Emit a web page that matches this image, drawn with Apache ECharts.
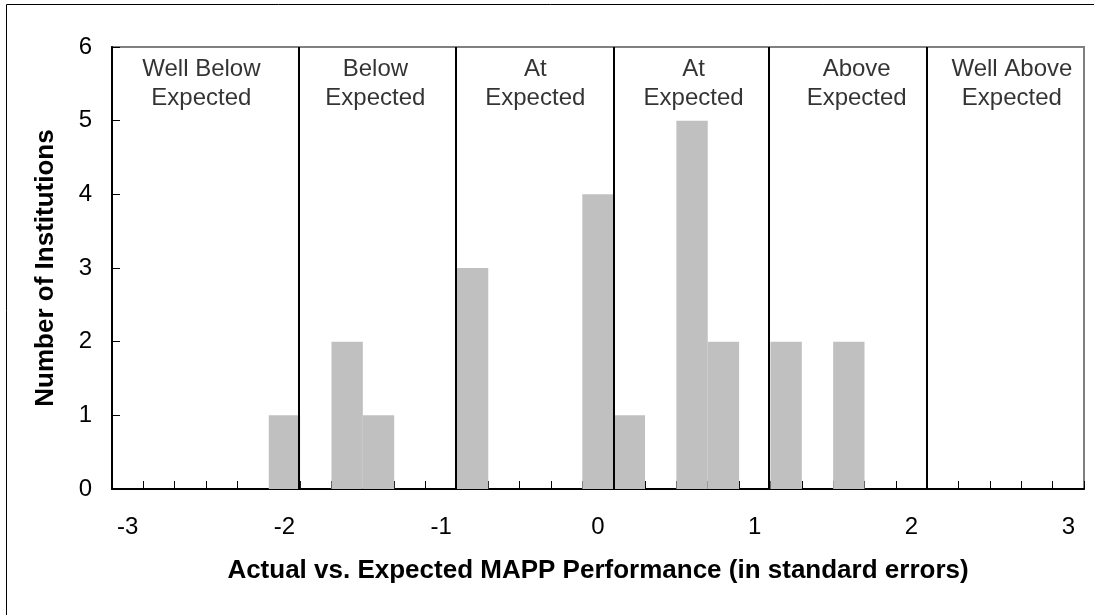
<!DOCTYPE html>
<html>
<head>
<meta charset="utf-8">
<script src="https://cdn.jsdelivr.net/npm/echarts@6/dist/echarts.min.js"></script>
<style>
html,body{margin:0;padding:0;background:#fff;}
#chart{width:1094px;height:615px;}
</style>
</head>
<body>
<div id="chart"></div>
<script>
// Bin centers (standard errors)
const binCenters = [-3.0,-2.8,-2.6,-2.4,-2.2,-2.0,-1.8,-1.6,-1.4,-1.2,-1.0,-0.8,-0.6,-0.4,-0.2,0.0,0.2,0.4,0.6,0.8,1.0,1.2,1.4,1.6,1.8,2.0,2.2,2.4,2.6,2.8,3.0];
// Number of institutions per bin
const counts = [0,0,0,0,0,1,0,2,1,0,0,3,0,0,0,4,1,0,5,2,0,2,0,2,0,0,0,0,0,0,0];
// Tick labels shown every 5 bins
const tickLabels = ['-3','-2','-1','0','1','2','3'];
// Zone divider positions
const dividers = [-1.91,-0.91,0.1,1.09,2.1];
// Zone labels and their positions
const zoneNames = ['Well Below\nExpected','Below\nExpected','At\nExpected','At\nExpected','Above\nExpected','Well Above\nExpected'];
const zoneLabelX = [-2.53,-1.42,-0.4,0.61,1.65,2.64];
const zoneLabelY = 5.5;

const FONT = 'Liberation Sans, Arial, sans-serif';
const chart = echarts.init(document.getElementById('chart'), null, {renderer:'canvas'});
chart.setOption({
  animation:false,
  backgroundColor:'#fff',
  textStyle:{fontFamily:FONT},
  graphic:[{
    type:'rect', silent:true, z:-10,
    shape:{x:6.5,y:4.5,width:1200,height:700},
    style:{fill:'none',stroke:'#000',lineWidth:1}
  }],
  grid:{left:112,right:10,top:47,bottom:126,show:true,borderColor:'#808080',borderWidth:2,backgroundColor:'transparent'},
  xAxis:[{
    type:'category',
    data:binCenters,
    boundaryGap:true,
    axisLine:{show:true,onZero:false,lineStyle:{color:'#000',width:2}},
    axisTick:{show:true,inside:true,length:8,interval:0,lineStyle:{color:'#000',width:1}},
    axisLabel:{interval:4,margin:26,fontSize:24,color:'#000',fontFamily:FONT,
      formatter:function(v,i){return tickLabels[Math.round(i/5)];}},
    splitLine:{show:false},
    name:'Actual vs. Expected MAPP Performance (in standard errors)',
    nameLocation:'middle',
    nameGap:69,
    nameTextStyle:{fontSize:26,fontWeight:'bold',color:'#000',fontFamily:FONT}
  },{
    type:'value',min:-3.1,max:3.1,show:false,
    axisLine:{show:false,onZero:false}
  }],
  yAxis:{
    type:'value',min:0,max:6,interval:1,
    axisLine:{show:true,onZero:false,lineStyle:{color:'#000',width:2}},
    axisTick:{show:true,inside:true,length:8,lineStyle:{color:'#000',width:1}},
    axisLabel:{margin:20,fontSize:24,color:'#000',fontFamily:FONT},
    splitLine:{show:false},
    name:'Number of Institutions',
    nameLocation:'middle',
    nameGap:53,
    nameRotate:90,
    nameTextStyle:{fontSize:26,fontWeight:'bold',color:'#000',fontFamily:FONT}
  },
  series:[{
    type:'bar',
    xAxisIndex:0,
    data:counts,
    barCategoryGap:'0%',
    itemStyle:{color:'#c0c0c0'},
    z:2
  },{
    type:'scatter',
    xAxisIndex:1,
    z:5,
    symbolSize:0,
    data:zoneLabelX.map(function(x,i){return {value:[x,zoneLabelY],name:zoneNames[i]};}),
    label:{show:true,position:'inside',formatter:function(p){return zoneNames[p.dataIndex];},
      fontSize:24,lineHeight:29.5,color:'#000',fontFamily:FONT,align:'center'},
    markLine:{
      silent:true,symbol:'none',
      label:{show:false},
      lineStyle:{color:'#000',width:2,type:'solid'},
      data:dividers.map(function(x){return {xAxis:x};})
    }
  }]
});
</script>
</body>
</html>
